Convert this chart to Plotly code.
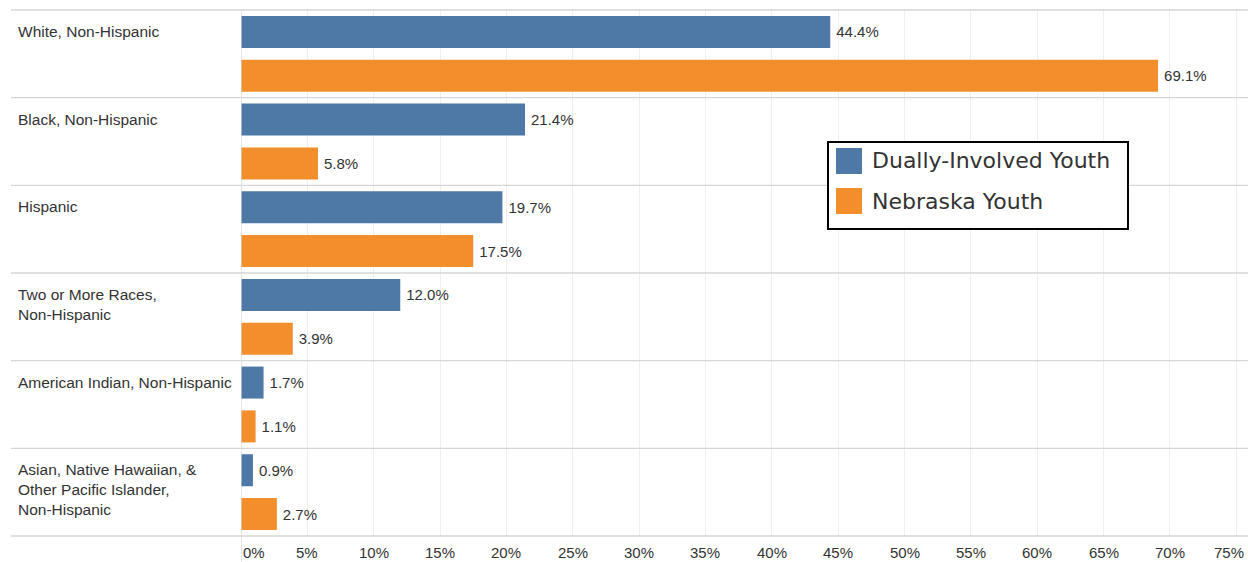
import plotly.graph_objects as go

# Race / ethnicity shares (%) for the two youth populations
categories = [
    "White, Non-Hispanic",
    "Black, Non-Hispanic",
    "Hispanic",
    "Two or More Races,<br>Non-Hispanic",
    "American Indian, Non-Hispanic",
    "Asian, Native Hawaiian, &<br>Other Pacific Islander,<br>Non-Hispanic",
]
dually_involved = [44.4, 21.4, 19.7, 12.0, 1.7, 0.9]
nebraska = [69.1, 5.8, 17.5, 3.9, 1.1, 2.7]
series_names = ["Dually-Involved Youth", "Nebraska Youth"]
series_colors = ["#4e79a7", "#f28e2b"]
x_ticks = list(range(0, 80, 5))

W, H = 1248, 562
L, R, T, B = 241, 9, 10, 26
PW, PH = W - L - R, H - T - B


def px_x(px):
    return (px - L) / PW


def px_y(py):
    return (H - B - py) / PH


idx = list(range(len(categories)))

fig = go.Figure()
for name, vals, color in zip(series_names, [dually_involved, nebraska], series_colors):
    fig.add_trace(go.Bar(
        y=idx, x=vals, orientation="h", name=name,
        marker=dict(color=color, line=dict(width=0)),
        text=[f"\u2009{v:.1f}%" for v in vals], textposition="outside",
        textfont=dict(family="Liberation Sans, Arial, sans-serif", size=15, color="#333333"),
        cliponaxis=False, showlegend=False,
    ))

shapes = []
# row separators spanning label column and plot
for k in range(len(categories) + 1):
    yp = 1 - k / len(categories)
    shapes.append(dict(type="line", xref="paper", yref="paper",
                       x0=px_x(11), x1=px_x(W), y0=yp, y1=yp,
                       line=dict(color="#d6d6d6", width=1.3)))
# baseline at 0%
shapes.append(dict(type="line", xref="x", yref="paper", x0=0, x1=0,
                   y0=px_y(H), y1=1, line=dict(color="#d6d6d6", width=1.3)))

# legend box
shapes.append(dict(type="rect", xref="paper", yref="paper",
                   x0=px_x(828), x1=px_x(1128), y0=px_y(229), y1=px_y(142),
                   fillcolor="white", line=dict(color="black", width=2), layer="above"))
legend_rows = [161, 201]
annotations = []
for name, color, cy in zip(series_names, series_colors, legend_rows):
    shapes.append(dict(type="rect", xref="paper", yref="paper",
                       x0=px_x(836), x1=px_x(862), y0=px_y(cy + 13), y1=px_y(cy - 13),
                       fillcolor=color, line=dict(width=0), layer="above"))
    annotations.append(dict(xref="paper", yref="paper", x=px_x(870), y=px_y(cy),
                            xanchor="left", yanchor="middle", text=name, showarrow=False,
                            font=dict(family="DejaVu Sans, sans-serif", size=22,
                                      color="#333333")))

# category labels, first line level with the upper bar
for i, cat in enumerate(categories):
    annotations.append(dict(xref="paper", yref="y", x=px_x(16), y=i - 0.25,
                            xanchor="left", yanchor="top", align="left", yshift=11,
                            text=cat, showarrow=False,
                            font=dict(family="Liberation Sans, Arial, sans-serif", size=15.5,
                                      color="#333333")))

# x tick labels (end labels nudged to stay inside the frame)
for t in x_ticks:
    first, last = t == x_ticks[0], t == x_ticks[-1]
    annotations.append(dict(xref="x", yref="paper", x=t, y=0, yshift=-16,
                            xanchor="left" if first else "center",
                            xshift=-7 if last else 0, yanchor="middle",
                            text=f"{t}%", showarrow=False,
                            font=dict(family="Liberation Sans, Arial, sans-serif", size=15,
                                      color="#333333")))

fig.update_layout(
    width=W, height=H,
    margin=dict(l=L, r=R, t=T, b=B),
    paper_bgcolor="white", plot_bgcolor="white",
    barmode="group", bargap=0, bargroupgap=0.27,
    shapes=shapes, annotations=annotations,
    xaxis=dict(range=[0, 75.2], tickvals=x_ticks, showticklabels=False,
               showgrid=True, gridcolor="#efefef", gridwidth=1, zeroline=False,
               showline=False, fixedrange=True),
    yaxis=dict(range=[len(categories) - 0.5, -0.5], showticklabels=False,
               showgrid=False, zeroline=False, showline=False, fixedrange=True),
)

fig.write_html("out.html")
